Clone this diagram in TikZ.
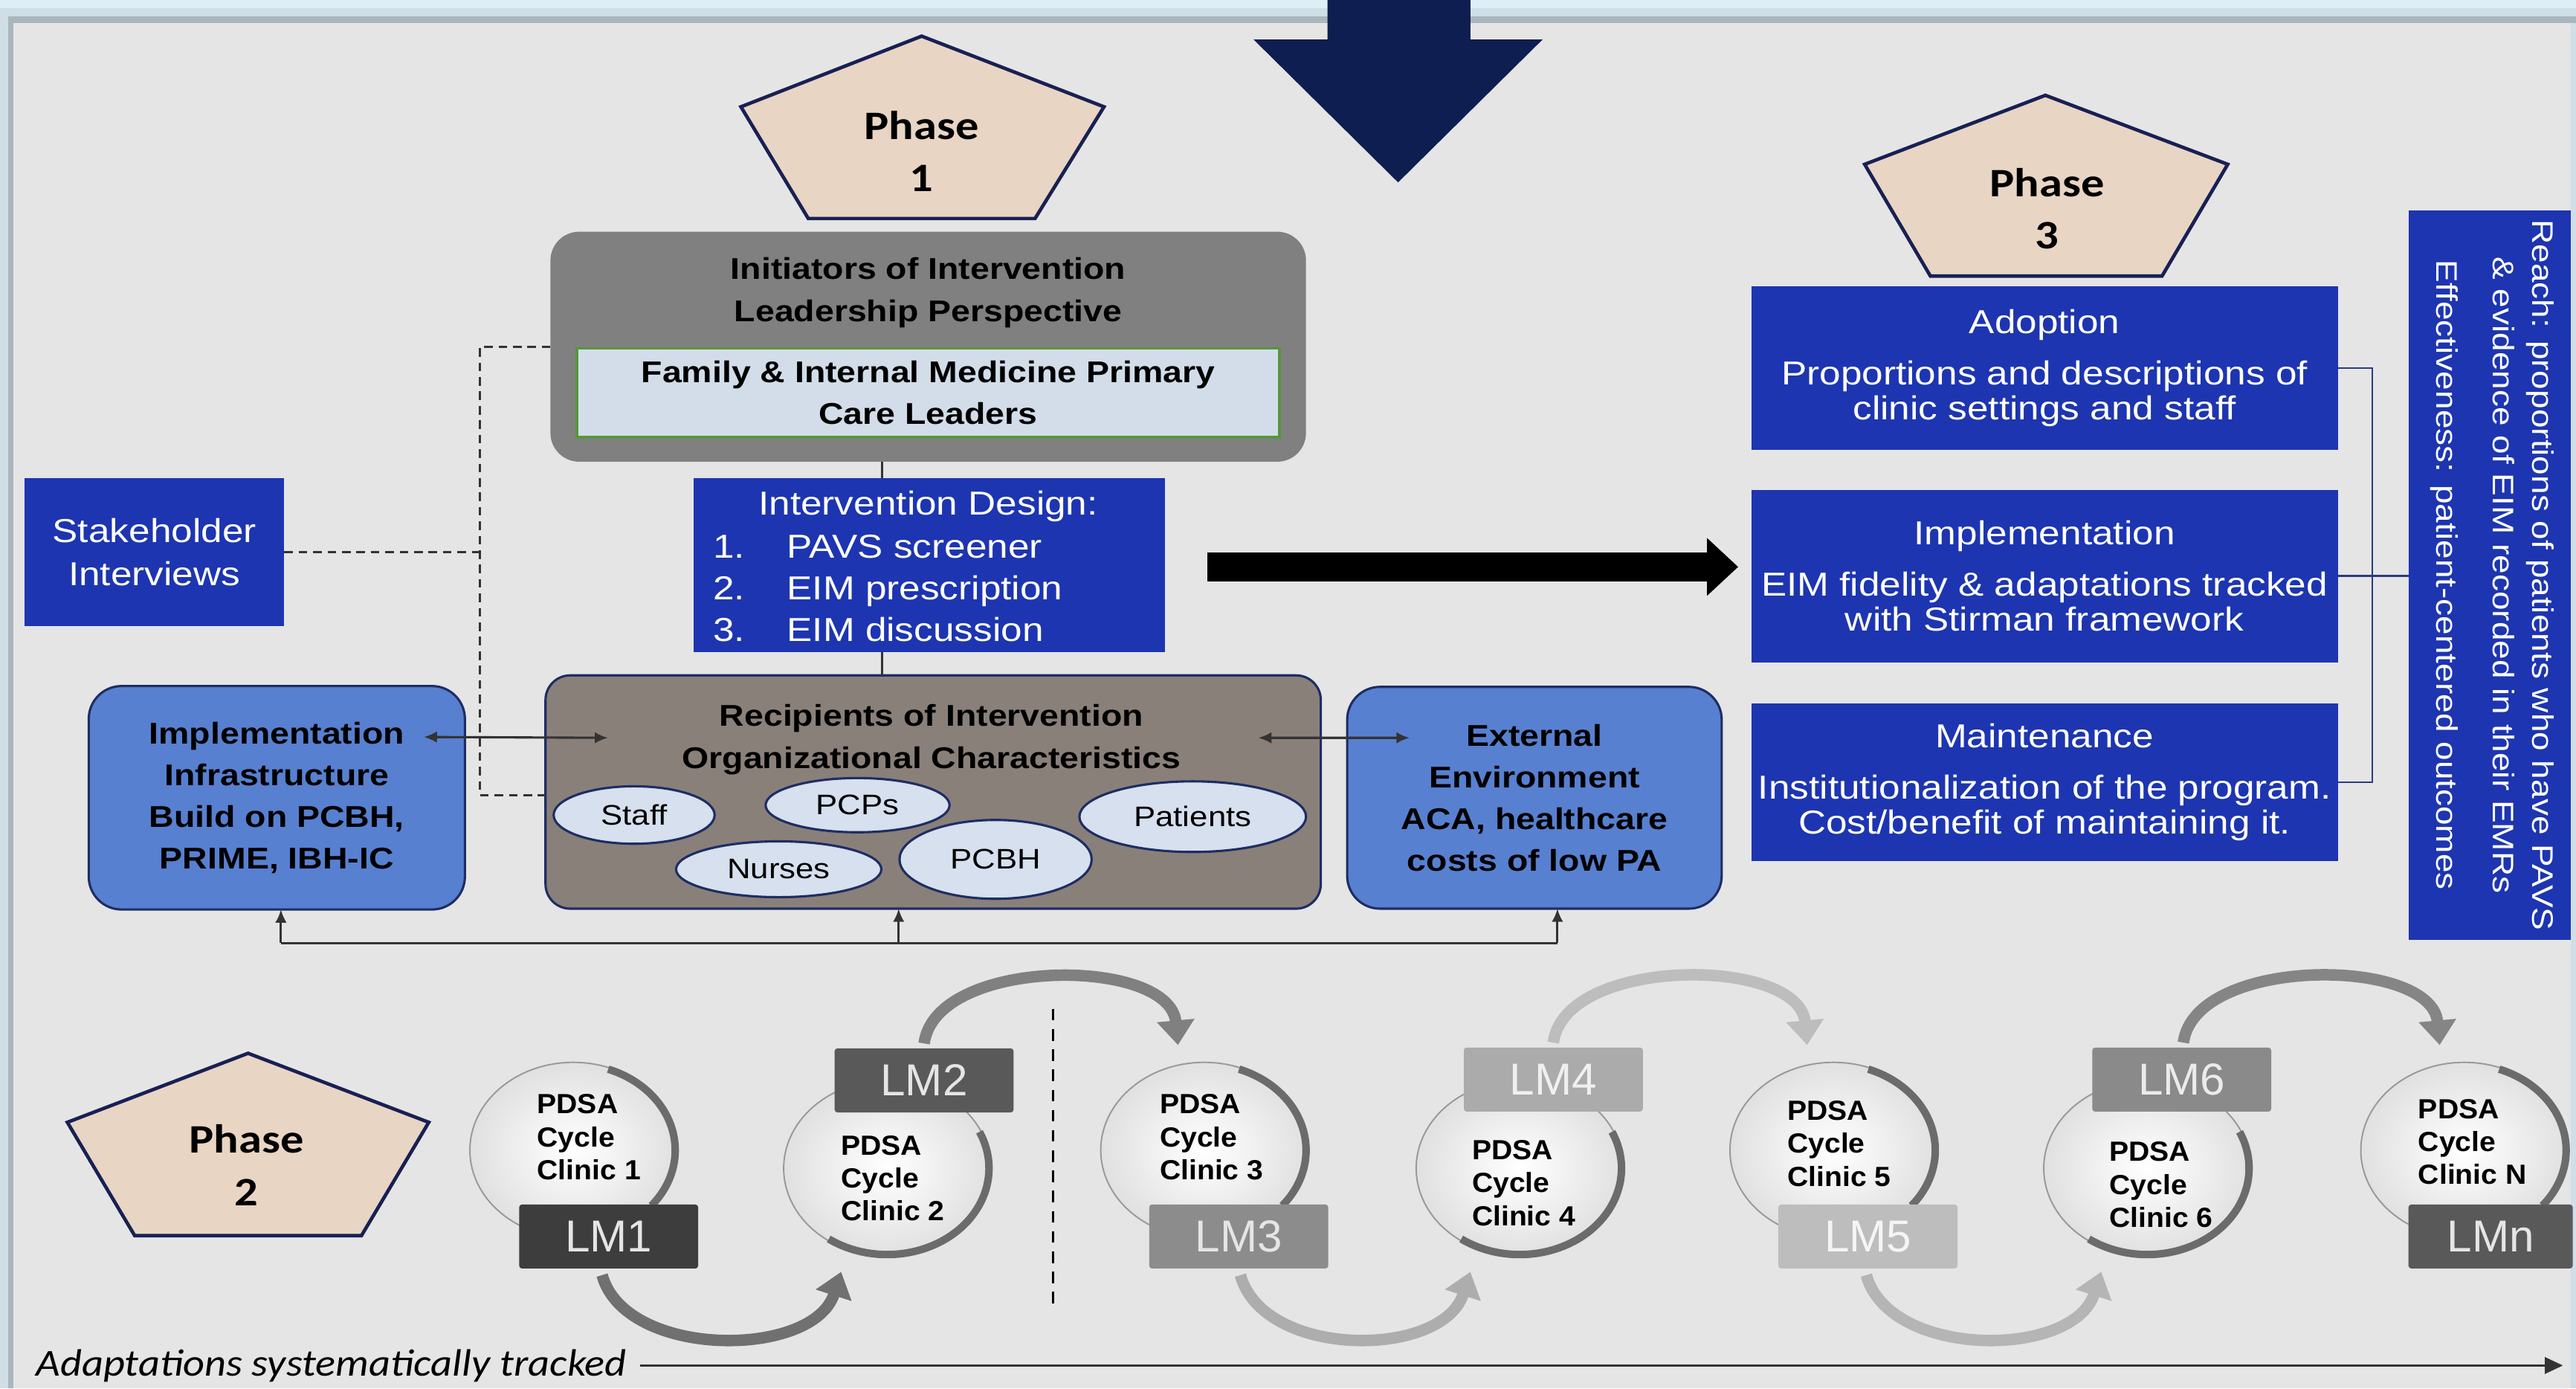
\documentclass[tikz,border=0pt]{standalone}
\usepackage{fontspec}
\setmainfont{Liberation Sans}[FakeStretch=1.15]
\newfontfamily\phasefont{Carlito}[FakeStretch=1.15]
\newfontfamily\lmfont{Liberation Sans}
\newfontfamily\pdsafont{Liberation Sans}[FakeStretch=1.05]
\newfontfamily\adaptfont{Carlito}[FakeStretch=1.1]
\usetikzlibrary{shapes.geometric,arrows.meta,calc}
\definecolor{bgc}{RGB}{229,229,229}
\definecolor{topa}{RGB}{221,238,246}
\definecolor{topb}{RGB}{208,222,229}
\definecolor{topc}{RGB}{170,182,189}
\definecolor{navyc}{RGB}{14,30,80}
\definecolor{pentb}{RGB}{24,32,84}
\definecolor{beige}{RGB}{232,213,196}
\definecolor{myblue}{RGB}{29,53,176}
\definecolor{midblue}{RGB}{88,128,208}
\definecolor{boxedge}{RGB}{30,45,100}
\definecolor{initgray}{RGB}{128,128,128}
\definecolor{recgray}{RGB}{138,128,122}
\definecolor{ellfill}{RGB}{214,224,238}
\definecolor{leadfill}{RGB}{210,221,233}
\definecolor{leadedge}{RGB}{86,150,58}
\definecolor{brk}{RGB}{40,60,130}
\newcommand\mycres[3]{\draw[ringd] ([shift={(#2:1.24cm and 1.05cm)}]#1.center) arc[start angle=#2,end angle=#3,x radius=1.24cm,y radius=1.05cm];}
\begin{document}
\begin{tikzpicture}[x=0.02cm,y=-0.02cm,
  every node/.style={inner sep=0pt,outer sep=0pt},
  boldtxt/.style={align=center,font=\bfseries\fontsize{10.4}{14.6}\selectfont},
  wtxt/.style={text=white,align=center,font=\fontsize{11.5}{14.5}\selectfont},
  bluebox/.style={rectangle,fill=myblue,text=white,align=center,font=\fontsize{11.5}{14.8}\selectfont},
  p3box/.style={rectangle,fill=myblue,text=white,align=center,minimum width=7.14cm,font=\fontsize{11.5}{12.2}\selectfont},
  midbox/.style={rectangle,rounded corners=0.4cm,fill=midblue,draw=boxedge,line width=0.8pt,align=center,font=\bfseries\fontsize{10.4}{14.4}\selectfont},
  ell/.style={ellipse,fill=ellfill,draw=boxedge,line width=0.8pt,font=\fontsize{9.8}{11}\selectfont},
  pent/.style={fill=beige,draw=pentb,line width=1.2pt},
  phase/.style={align=center,font=\phasefont\bfseries\fontsize{14}{18.2}\selectfont},
  conn/.style={draw=black!80,line width=0.8pt},
  dconn/.style={draw=black!80,line width=0.9pt,dash pattern=on 3pt off 2pt},
  tip/.style={-{Latex[length=0.16cm,width=0.14cm]}},
  lmbox/.style={rectangle,rounded corners=1pt,minimum width=2.18cm,minimum height=0.78cm,font=\lmfont\fontsize{15.5}{16}\selectfont},
  pdsa/.style={ellipse,minimum width=2.52cm,minimum height=2.14cm,inner color=white,outer color=black!12,draw=black!40,line width=0.5pt},
  pdsat/.style={anchor=west,align=left,font=\pdsafont\bfseries\fontsize{9.6}{11.4}\selectfont},
  ringd/.style={draw=black!58,line width=2.6pt},
  cyc/.style={line width=0.14cm,-{Triangle[length=0.3cm,width=0.44cm]}}]

\useasboundingbox (0,0) rectangle (1568,845);
% background and frame
\fill[bgc] (0,0) rectangle (1568,845);
\fill[topa] (0,0) rectangle (1568,5);
\fill[topb] (0,5) rectangle (1568,10);
\fill[topc] (8,10) rectangle (1568,14);
\fill[topb] (0,5) rectangle (5,845);
\fill[topc] (5,10) rectangle (8,845);
\fill[topb] (1565,14) rectangle (1568,845);

% big navy arrow
\fill[navyc] (808,0) -- (895,0) -- (895,24) -- (939,24) -- (851,111) -- (763,24) -- (808,24) -- cycle;

% phase pentagons
\filldraw[pent] (561,22) -- (672,65) -- (630,133) -- (492,133) -- (451,65) -- cycle;
\node[phase] (ph1) at (561,92) {Phase\\1};
\filldraw[pent] (151,641) -- (261,683) -- (220,752) -- (82,752) -- (41,683) -- cycle;
\node[phase] (ph2) at (150,709) {Phase\\2};
\filldraw[pent] (1245,58) -- (1356,100) -- (1316,168) -- (1175,168) -- (1135,100) -- cycle;
\node[phase] (ph3) at (1246,127) {Phase\\3};

% phase 1 block
\node[rectangle,rounded corners=0.35cm,fill=initgray,minimum width=9.2cm,minimum height=2.8cm] (init) at (565,211) {};
\node[boldtxt] (initT) at (565,178) {Initiators of Intervention\\Leadership Perspective};
\node[rectangle,fill=leadfill,draw=leadedge,line width=1pt,minimum width=8.56cm,minimum height=1.08cm,boldtxt] (lead) at (565,239) {Family \& Internal Medicine Primary\\Care Leaders};

\node[rectangle,fill=myblue,minimum width=5.74cm,minimum height=2.12cm] (design) at (565.5,344) {};
\node[wtxt] (designT) at (565,308) {Intervention Design:};
\node[wtxt,anchor=west,align=left] (designL) at (434,358) {\makebox[0.9cm][l]{1.}PAVS screener\\\makebox[0.9cm][l]{2.}EIM prescription\\\makebox[0.9cm][l]{3.}EIM discussion};

\node[bluebox,minimum width=3.16cm,minimum height=1.8cm] (stake) at (94,336) {Stakeholder\\Interviews};

\node[rectangle,rounded corners=0.3cm,fill=recgray,draw=boxedge,line width=0.8pt,minimum width=9.44cm,minimum height=2.84cm] (recip) at (568,482) {};
\node[boldtxt] (recT) at (567,450) {Recipients of Intervention\\Organizational Characteristics};
\node[ell,minimum width=1.96cm,minimum height=0.70cm] (staff) at (386,496) {Staff};
\node[ell,minimum width=2.24cm,minimum height=0.66cm] (pcps) at (522,490) {PCPs};
\node[ell,minimum width=2.5cm,minimum height=0.68cm] (nurses) at (474,529) {Nurses};
\node[ell,minimum width=2.34cm,minimum height=0.96cm] (pcbh) at (606,523) {PCBH};
\node[ell,minimum width=2.76cm,minimum height=0.86cm] (patients) at (726,497) {Patients};

\node[midbox,minimum width=4.58cm,minimum height=2.72cm] (impl) at (168.5,485.5) {Implementation\\Infrastructure\\Build on PCBH,\\PRIME, IBH-IC};
\node[midbox,minimum width=4.56cm,minimum height=2.7cm] (ext) at (934,485.5) {External\\Environment\\ACA, healthcare\\costs of low PA};

% phase 1 connectors
\coordinate (lx) at (537,0);
\draw[conn] (init.south -| lx) -- (design.north -| lx);
\draw[conn] (design.south -| lx) -- (recip.north -| lx);
\coordinate (dbot) at (292,484);
\draw[dconn] (init.west) -| (dbot) -- (recip.west |- dbot);
\draw[dconn] (stake.east) -- (stake.east -| dbot);
\draw[conn,{Latex[length=0.16cm,width=0.14cm]}-{Latex[length=0.16cm,width=0.14cm]}] ($(impl.north east)+(-25,31)$) -- ($(recip.north west)+(38,38)$);
\draw[conn,{Latex[length=0.16cm,width=0.14cm]}-{Latex[length=0.16cm,width=0.14cm]}] ($(recip.north east)+(-38,38)$) -- ($(ext.north west)+(38,31)$);
\coordinate (fbL) at (171,574);
\coordinate (fbM) at (547,574);
\coordinate (fbR) at (948,574);
\draw[conn] (fbL) -- (fbR);
\draw[conn,tip] (fbL) -- (fbL |- impl.south);
\draw[conn,tip] (fbM) -- (fbM |- recip.south);
\draw[conn,tip] (fbR) -- (fbR |- ext.south);

% phase 3 block
\node[p3box,minimum height=2.0cm] (adopt) at (1244.5,224) {Adoption\\[5.5pt]Proportions and descriptions of\\clinic settings and staff};
\node[p3box,minimum height=2.1cm] (impl3) at (1244.5,350.5) {Implementation\\[5.5pt]EIM fidelity \& adaptations tracked\\with Stirman framework};
\node[p3box,minimum height=1.92cm] (maint) at (1244.5,476) {Maintenance\\[5.5pt]Institutionalization of the program.\\Cost/benefit of maintaining it.};
\node[rectangle,fill=myblue,minimum width=1.98cm,minimum height=8.88cm] (reach) at (1515.5,350) {};
\node[rotate=-90,text=white,align=center,font=\fontsize{10.3}{13.6}\selectfont] (reachT) at (1517,350) {Reach: proportions of patients who have PAVS\\\& evidence of EIM recorded in their EMRs\\[6pt]Effectiveness: patient-centered outcomes};
\coordinate (bx) at (1444,0);
\draw[draw=brk,line width=0.7pt] (adopt.east) -- (adopt.east -| bx) -- (maint.east -| bx) -- (maint.east);
\draw[draw=brk,line width=0.7pt] (impl3.east) -- (reach.west |- impl3.east);

% big black arrow
\draw[line width=0.36cm,-{Triangle[length=0.38cm,width=0.68cm]}] ($(design.east)+(26,1)$) -- ($(design.east -| impl3.west)+(-8,1)$);

% phase 2 cycles
\node[pdsa] (c1) at (349,700) {};
\node[pdsa] (c2) at (540,711) {};
\node[pdsa] (c3) at (733,700) {};
\node[pdsa] (c4) at (925,711) {};
\node[pdsa] (c5) at (1116,700) {};
\node[pdsa] (c6) at (1307,711) {};
\node[pdsa] (cN) at (1500,700) {};
\mycres{c1}{70}{-40}
\mycres{c2}{25}{-125}
\mycres{c3}{70}{-40}
\mycres{c4}{25}{-125}
\mycres{c5}{70}{-40}
\mycres{c6}{25}{-125}
\mycres{cN}{70}{-40}

\draw[dashed,line width=0.8pt,dash pattern=on 4pt off 3pt] (641,614) -- (641,795);

\node[lmbox,fill=black!76,text=black!10] (lm1) at (370.5,752.5) {LM1};
\node[lmbox,fill=black!65,text=black!10] (lm2) at (562.5,657.5) {LM2};
\node[lmbox,fill=black!45,text=black!10] (lm3) at (754,752.5) {LM3};
\node[lmbox,fill=black!33,text=black!6] (lm4) at (945.5,657) {LM4};
\node[lmbox,fill=black!26,text=black!4] (lm5) at (1137,752.5) {LM5};
\node[lmbox,fill=black!46,text=black!8] (lm6) at (1328,657) {LM6};
\node[lmbox,fill=black!65,text=black!10,minimum width=2.0cm] (lmn) at (1516,752.5) {LMn};

\draw[cyc,draw=black!56] ($(lm1.south)+(-4,4)$) .. controls +(14,51) and +(-17,53) .. ($(c2.center)+(-28,63)$);
\draw[cyc,draw=black!50] ($(lm2.north)+(0,-3)$) .. controls +(7,-53) and +(-5,-54) .. ($(c3.center)+(-16,-64)$);
\draw[cyc,draw=black!32] ($(lm3.south)+(1,4)$) .. controls +(14,51) and +(-17,53) .. ($(c4.center)+(-30,63)$);
\draw[cyc,draw=black!26] ($(lm4.north)+(0,-3)$) .. controls +(7,-53) and +(-5,-54) .. ($(c5.center)+(-16,-64)$);
\draw[cyc,draw=black!29] ($(lm5.south)+(-1,4)$) .. controls +(14,51) and +(-17,53) .. ($(c6.center)+(-28,63)$);
\draw[cyc,draw=black!48] ($(lm6.north)+(1,-3)$) .. controls +(7,-53) and +(-5,-54) .. ($(cN.center)+(-15,-64)$);

\node[pdsat] (c1t) at (327,692) {PDSA\\Cycle\\Clinic 1};
\node[pdsat] (c2t) at (512,717) {PDSA\\Cycle\\Clinic 2};
\node[pdsat] (c3t) at (706,692) {PDSA\\Cycle\\Clinic 3};
\node[pdsat] (c4t) at (896,720) {PDSA\\Cycle\\Clinic 4};
\node[pdsat] (c5t) at (1088,696) {PDSA\\Cycle\\Clinic 5};
\node[pdsat] (c6t) at (1284,721) {PDSA\\Cycle\\Clinic 6};
\node[pdsat] (cNt) at (1472,695) {PDSA\\Cycle\\Clinic N};

% bottom timeline
\node[anchor=west,font=\adaptfont\itshape\fontsize{13.2}{14}\selectfont] (adapt) at (22,831) {Adaptations systematically tracked};
\coordinate (tend) at (1560,831);
\draw[conn,-{Triangle[length=0.22cm,width=0.2cm]}] ([xshift=0.16cm]adapt.east) -- (tend);
\end{tikzpicture}
\end{document}
